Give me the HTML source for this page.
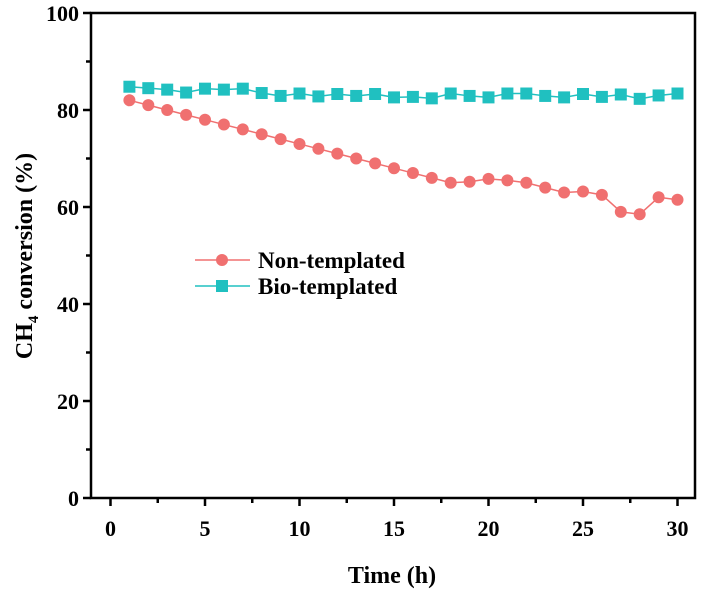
<!DOCTYPE html>
<html><head><meta charset="utf-8"><style>
html,body{margin:0;padding:0;background:#fff;}
svg{display:block;font-family:"Liberation Serif",serif;font-weight:bold;}
</style></head><body>
<svg id="chart" width="704" height="591" xmlns="http://www.w3.org/2000/svg">
<g id="axes"></g><g id="series"></g>
<g>
<line x1="195" y1="260" x2="250" y2="260" stroke="#f07070" stroke-width="1.5"/>
<circle cx="222" cy="260" r="6" fill="#f07070"/>
<text x="258" y="268" font-size="23">Non-templated</text>
<line x1="195" y1="286" x2="250" y2="286" stroke="#20c0c0" stroke-width="1.5"/>
<rect x="216" y="280" width="12" height="12" fill="#20c0c0"/>
<text x="258" y="294" font-size="23">Bio-templated</text>
</g>
<text x="392" y="583" font-size="24" text-anchor="middle">Time (h)</text>
<text transform="translate(32,256) rotate(-90)" font-size="24" text-anchor="middle">CH<tspan font-size="15" dy="6">4</tspan><tspan dy="-6"> conversion (%)</tspan></text>
</svg>
<script>
const hours=[1,2,3,4,5,6,7,8,9,10,11,12,13,14,15,16,17,18,19,20,21,22,23,24,25,26,27,28,29,30];
const nonTemplated=[82,81,80,79,78,77,76,75,74,73,72,71,70,69,68,67,66,65,65.2,65.8,65.5,65,64,63,63.2,62.5,59,58.5,62,61.5];
const bioTemplated=[84.8,84.5,84.2,83.6,84.4,84.2,84.4,83.5,82.9,83.4,82.8,83.3,82.9,83.3,82.6,82.7,82.4,83.4,82.9,82.6,83.4,83.4,82.9,82.6,83.3,82.7,83.2,82.3,83.0,83.4];
const xTicks=[0,5,10,15,20,25,30];
const yTicks=[0,20,40,60,80,100];
const NS="http://www.w3.org/2000/svg";
const L=91,R=695,T=13,B=498;
function xs(t){return 110.5+18.9*t;}
function ys(v){return B-(B-T)*v/100;}
function mk(tag,attrs,parent){const e=document.createElementNS(NS,tag);for(const k in attrs)e.setAttribute(k,attrs[k]);parent.appendChild(e);return e;}
const ax=document.getElementById('axes');
const frame=mk('rect',{x:L,y:T,width:R-L,height:B-T,fill:'none',stroke:'#000','stroke-width':2.5},ax);


xTicks.forEach(t=>{
 mk('line',{x1:xs(t),x2:xs(t),y1:B,y2:B+8,stroke:'#000','stroke-width':2.5},ax);
 const m=t+2.5; if(m<=30) mk('line',{x1:xs(m),x2:xs(m),y1:B,y2:B+5,stroke:'#000','stroke-width':2.5},ax);
 const tx=mk('text',{x:xs(t),y:B+38,'font-size':22,'text-anchor':'middle'},ax);tx.textContent=t;
 
 
});
yTicks.forEach(v=>{
 mk('line',{x1:L-8,x2:L,y1:ys(v),y2:ys(v),stroke:'#000','stroke-width':2.5},ax);
 if(v<100) mk('line',{x1:L-5,x2:L,y1:ys(v+10),y2:ys(v+10),stroke:'#000','stroke-width':2.5},ax);
 const tx=mk('text',{x:L-12,y:ys(v)+8,'font-size':22,'text-anchor':'end'},ax);tx.textContent=v;
 
 
});
const sg=document.getElementById('series');
function draw(vals,color,shape,name){
 const g=mk('g',{},sg);
 
 
 mk('polyline',{points:vals.map((v,i)=>xs(hours[i])+','+ys(v)).join(' '),fill:'none',stroke:color,'stroke-width':1.5},g);
 vals.forEach((v,i)=>{
  let p;
  if(shape==='c') p=mk('circle',{cx:xs(hours[i]),cy:ys(v),r:6,fill:color},g);
  else p=mk('rect',{x:xs(hours[i])-6,y:ys(v)-6,width:12,height:12,fill:color},g);
  
  
 });
}
draw(nonTemplated,'#f07070','c','series-non-templated');
draw(bioTemplated,'#20c0c0','s','series-bio-templated');
</script>
</body></html>
